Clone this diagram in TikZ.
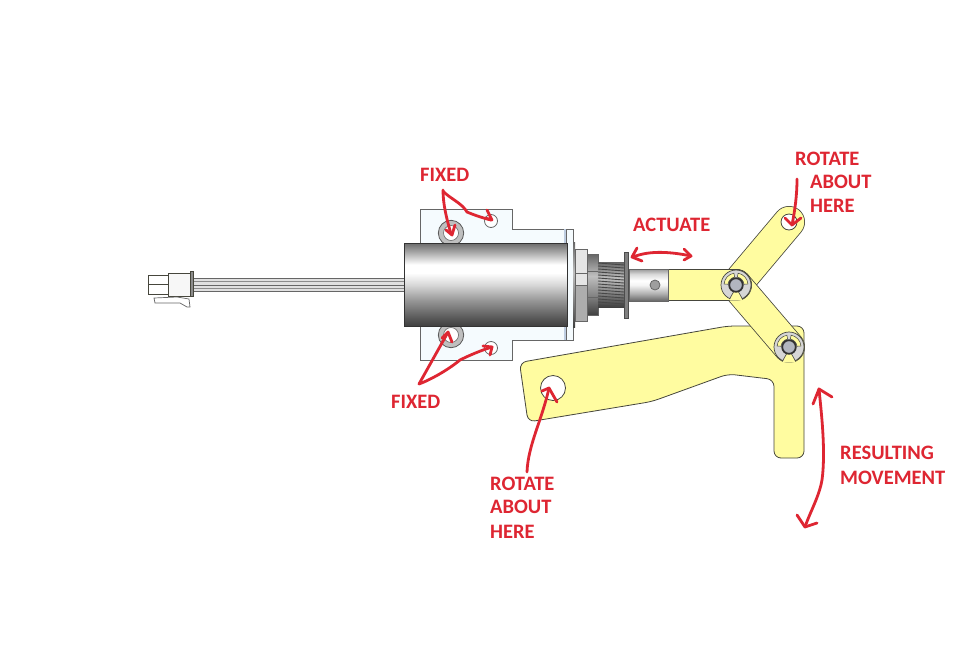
\documentclass[tikz,border=0pt]{standalone}
\usepackage{fontspec}
\setmainfont{Carlito}
\definecolor{redink}{RGB}{222,38,50}
\definecolor{leveryellow}{RGB}{255,252,160}
\definecolor{outline}{RGB}{70,70,60}
\definecolor{clipgrey}{RGB}{214,214,214}
\definecolor{pingrey}{RGB}{178,182,192}
\definecolor{plateblue}{RGB}{245,251,254}
\definecolor{stripblue}{RGB}{190,205,225}
% a path covers 25bp to 75bp of a declared shading
\pgfdeclareverticalshading{bodyshade}{100bp}{
  color(0bp)=(black!75); color(25bp)=(black!75); color(30bp)=(black!65); color(40bp)=(black!42); color(50bp)=(black!15);
  color(57bp)=(white); color(62bp)=(white); color(69bp)=(black!32); color(75bp)=(black!58); color(100bp)=(black!58)}
\pgfdeclareverticalshading{shaftshade}{100bp}{
  color(0bp)=(black!60); color(25bp)=(black!60); color(37bp)=(black!30); color(50bp)=(black!4); color(57bp)=(white); color(67bp)=(black!15); color(75bp)=(black!40); color(100bp)=(black!40)}
\pgfdeclareverticalshading{threadshade}{100bp}{
  color(0bp)=(black!75); color(25bp)=(black!75); color(40bp)=(black!50); color(57bp)=(black!25); color(75bp)=(black!60); color(100bp)=(black!60)}
\tikzset{
  x=1pt,y=-1pt,
  part/.style={draw=outline,line width=0.8pt},
  link/.style={part,fill=leveryellow},
  ink/.style={draw=redink,line width=2.8pt,line cap=round,line join=round},
  lbl/.style={text=redink,font=\bfseries\fontsize{20.5}{20.5}\selectfont,inner sep=0pt,anchor=west},
}
\newcommand{\linkbar}[4]{%
  \draw[outline,line width=32pt,line cap=round] (#1,#2) -- (#3,#4);
  \draw[leveryellow,line width=30.4pt,line cap=round] (#1,#2) -- (#3,#4);
}
\newcommand{\eclip}[2]{%
  \begin{scope}[shift={(#1,#2)},y=1pt]
  \fill[clipgrey,draw=outline,line width=0.7pt] (0,0) circle (15);
  \fill[leveryellow] (-2.5,-7) -- (-6.5,-15.6) -- (6.5,-15.6) -- (2.5,-7) -- cycle;
  \draw[outline,line width=0.6pt] (-6.5,-14) -- (-2.5,-7) (6.5,-14) -- (2.5,-7);
  \draw[outline,line width=0.5pt,fill=leveryellow] (100:8) arc (100:175:8) -- (175:12) arc (175:100:12) -- cycle;
  \draw[outline,line width=0.5pt,fill=leveryellow] (80:8) arc (80:5:8) -- (5:12) arc (5:80:12) -- cycle;
  \fill[pingrey,draw=black!80,line width=1.8pt] (0,0) circle (6.8);
  \end{scope}
}
\begin{document}
\begin{tikzpicture}
\useasboundingbox (0,0) rectangle (960,659);
\fill[white] (0,0) rectangle (960,659);
% wire and connector
\fill[black!12] (193,278) rectangle (404,292);
\draw[black!60,line width=0.8pt] (193,278.5) -- (404,278.5) (193,285) -- (404,285) (193,291.5) -- (404,291.5);
\draw[black!45,line width=0.7pt] (193,281.5) -- (404,281.5) (193,288) -- (404,288);
\draw[part,fill=white] (148,275) rectangle (168,284);
\draw[part,fill=white] (148,284) rectangle (168,294);
\draw[part,fill=black!3] (168,273) rectangle (190,296);
\draw[part,fill=black!45] (190,271) rectangle (193,296);
\draw[black!60,line width=0.7pt,fill=white] (154,298) -- (155,303) -- (180,303) -- (187,307) -- (190,307) -- (189,299) -- (177,297) -- cycle;
% plate
\draw[part,draw=black!60,fill=plateblue] (420,209) -- (512,209) -- (512,229) -- (566,229) -- (566,340) -- (512,340) -- (512,360) -- (420,360) -- cycle;
\draw[part,draw=black!60,fill=white] (491,221) circle (6.5);
\draw[part,draw=black!60,fill=white] (491,348) circle (6.5);
\foreach \cy in {233,335} {
  \draw[black!65,line width=0.8pt,fill=black!25] (451,\cy) circle (12.7);
  \draw[black!60,line width=0.6pt,fill=white] (451,\cy) circle (7.5);
}
% flange
\fill[stripblue] (563.5,229) rectangle (566,340);
\draw[part,draw=black!60,fill=plateblue] (566,229) rectangle (573,340);
% body
\shade[shading=bodyshade] (404,243) rectangle (567,326);
\draw[black!80,line width=0.8pt] (404,243) rectangle (567,326);
% hex nuts
\shade[shading=threadshade] (573,242) rectangle (575,327);
\fill[black!10] (575,249) rectangle (587,285);
\fill[black!32] (575,285) rectangle (587,321);
\draw[black!60,line width=0.7pt] (575,249) rectangle (587,321) (575,273) -- (587,273) (575,285) -- (587,285);
\shade[shading=threadshade] (587,254) rectangle (598,315);
\draw[black!60,line width=0.7pt] (587,254) rectangle (598,315) (587,271) -- (598,271) (587,297) -- (598,297);
% thread
\shade[shading=threadshade] (598,262) rectangle (624,307);
\foreach \ty in {264,267,...,306} \draw[black!72,line width=0.9pt] (598,\ty-1) -- (624,\ty+1);
\fill[black!50] (624,252) rectangle (628,318);
\draw[black!70,line width=0.5pt] (624,252) rectangle (628,318);
% lever
\draw[link,rounded corners=7pt] (519.5,362.5) -- (728,326) -- (804,326) -- (804,458) -- (774,458) -- (774,379.5) -- (728,374) -- (652,401.5) -- (528,422) -- cycle;
\draw[part,fill=white] (553,388) circle (12.5);
% links
\linkbar{736}{285}{789}{222}
\draw[part,fill=white] (789,222) circle (8);
\linkbar{736}{285}{789}{347}
\linkbar{668}{285}{736}{285}
% shaft
\shade[shading=shaftshade] (629,269) rectangle (668,301);
\draw[black!60,line width=0.7pt] (629,269) rectangle (668,301);
\draw[black!60,line width=0.8pt,fill=black!38] (655,285) circle (5);
\eclip{736}{285}
\eclip{789}{347}
% labels
\node[lbl] (fixedtop) at (420,175) {FIXED};
\node[lbl] (fixedbot) at (391,402) {FIXED};
\node[lbl] (actuate) at (633,225) {ACTUATE};
\node[lbl] (rot1a) at (795,159) {ROTATE};
\node[lbl] (rot1b) at (810,182) {ABOUT};
\node[lbl] (rot1c) at (810,206) {HERE};
\node[lbl] (rot2a) at (490,484) {ROTATE};
\node[lbl] (rot2b) at (490,507) {ABOUT};
\node[lbl] (rot2c) at (490,532) {HERE};
\node[lbl] (res1) at (840,453) {RESULTING};
\node[lbl] (res2) at (840,478) {MOVEMENT};
% red arrows
\draw[ink] (443,190) .. controls (443,205) and (447,220) .. (451,234);
\draw[ink] (446,230) -- (452,235) -- (455,225);
\draw[ink] (443,191) .. controls (449,198) and (462,203) .. (467,212) .. controls (474,215) and (483,218) .. (491,220);
\draw[ink] (487,210) -- (492,220) -- (485,218);
\draw[ink] (419,384) -- (447,334);
\draw[ink] (442,338) -- (448,332) -- (452,342);
\draw[ink] (419,384) .. controls (430,380) and (448,370) .. (460,360) .. controls (470,355) and (482,350) .. (492,347);
\draw[ink] (483,346) -- (492,347) -- (490,355);
\draw[ink] (527,472) .. controls (528,445) and (542,420) .. (549,388);
\draw[ink] (542,391) -- (549,388) -- (557,402);
\draw[ink] (797,179) .. controls (797,195) and (795,210) .. (792,225);
\draw[ink] (785,218) -- (792,225) -- (801,218);
\draw[ink] (633,257) .. controls (650,250) and (672,252) .. (691,256);
\draw[ink] (637,248) -- (632,257) -- (642,261);
\draw[ink] (684,249) -- (691,256) -- (684,260);
\draw[ink] (819,389) .. controls (821,410) and (826,450) .. (822,480) .. controls (819,497) and (810,512) .. (805,527);
\draw[ink] (813,404) -- (819,389) -- (832,397);
\draw[ink] (797,515) -- (805,527) -- (817,523);
\end{tikzpicture}
\end{document}
